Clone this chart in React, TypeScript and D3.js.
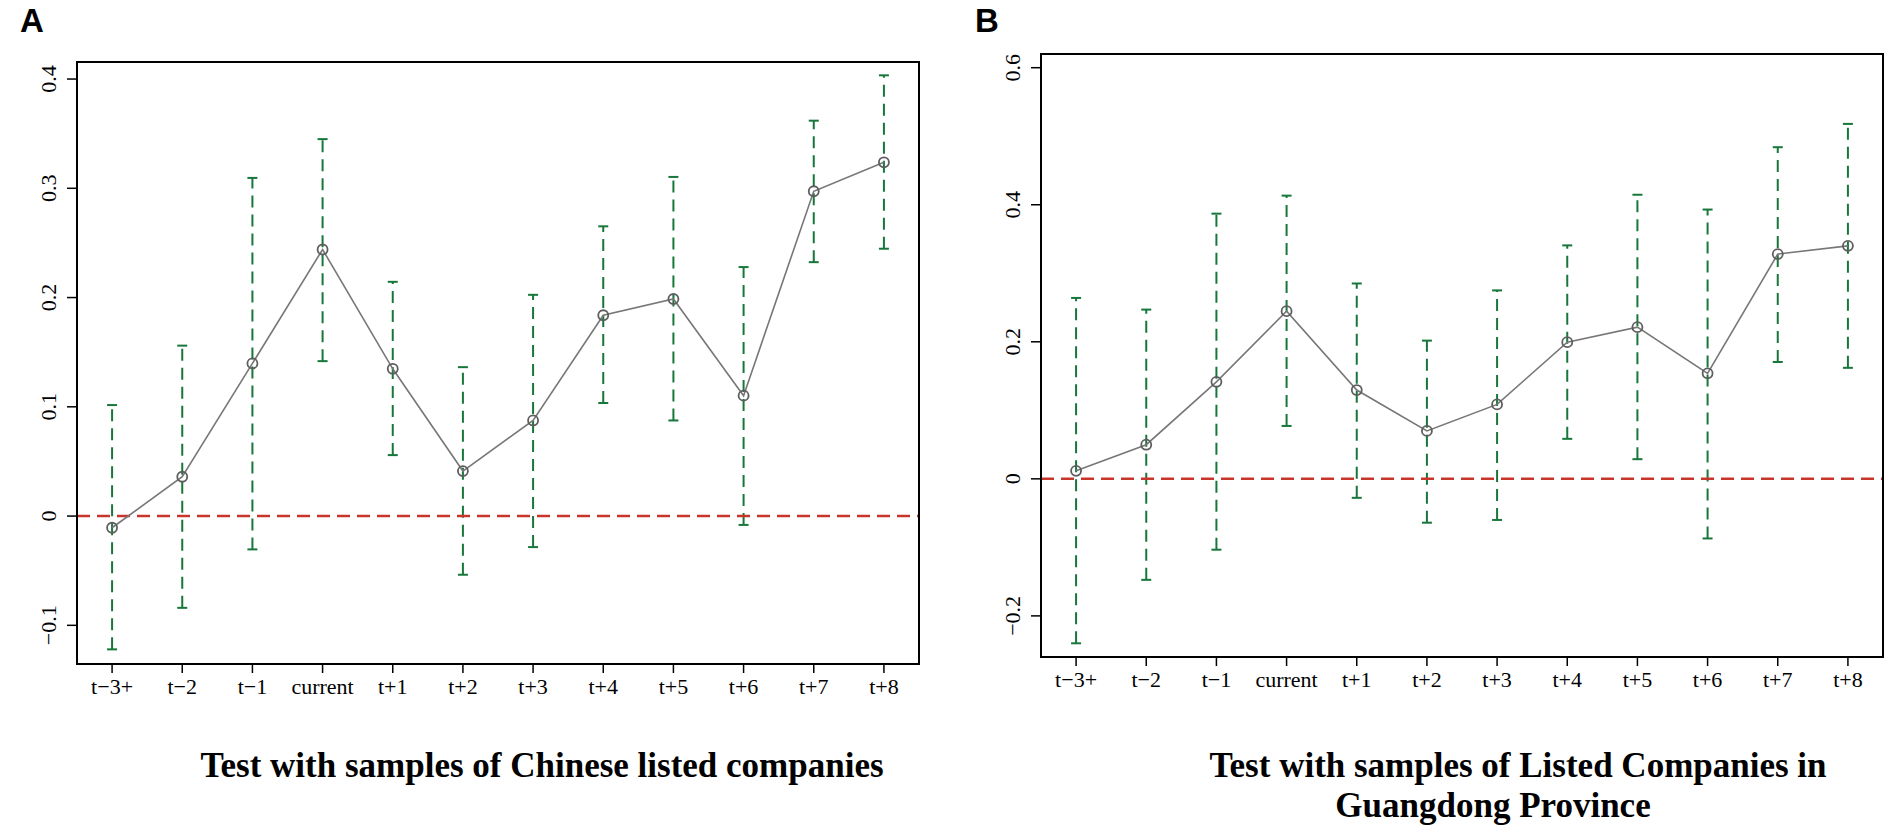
import React from "react";
import * as d3 from "d3";

// ---------- data ----------
const categories = ["t\u22123+", "t\u22122", "t\u22121", "current", "t+1", "t+2", "t+3", "t+4", "t+5", "t+6", "t+7", "t+8"];

const estA = [-0.0107, 0.036, 0.1397, 0.244, 0.1348, 0.0412, 0.0875, 0.1838, 0.1987, 0.1102, 0.2973, 0.3238];
const lowerA = [-0.122, -0.084, -0.0305, 0.1418, 0.0558, -0.0537, -0.0284, 0.1035, 0.0875, -0.0081, 0.2324, 0.2447];
const upperA = [0.1016, 0.156, 0.3095, 0.345, 0.2144, 0.1363, 0.2025, 0.2652, 0.3104, 0.2279, 0.3619, 0.4034];

const estB = [0.0117, 0.0498, 0.1416, 0.2447, 0.1296, 0.07, 0.1086, 0.1995, 0.2213, 0.154, 0.328, 0.34];
const lowerB = [-0.24, -0.1474, -0.1034, 0.0772, -0.0277, -0.064, -0.06, 0.0584, 0.0287, -0.087, 0.1705, 0.162];
const upperB = [0.264, 0.247, 0.387, 0.4133, 0.2851, 0.2017, 0.275, 0.3407, 0.4146, 0.393, 0.484, 0.518];

const yTicksA = [-0.1, 0, 0.1, 0.2, 0.3, 0.4];
const yTickLabelsA = ["\u22120.1", "0", "0.1", "0.2", "0.3", "0.4"];
const yTicksB = [-0.2, 0, 0.2, 0.4, 0.6];
const yTickLabelsB = ["\u22120.2", "0", "0.2", "0.4", "0.6"];

const yDomainA = [-0.1354, 0.4156];
const yDomainB = [-0.26, 0.62];

const titleA = ["Test with samples of Chinese listed companies"];
const titleB = ["Test with samples of Listed Companies in", "Guangdong Province"];

// ---------- styles ----------
const GREEN = "#17773a";
const RED = "#c8362b";
const GREY = "#777777";
const SERIF = "'Liberation Serif', 'Times New Roman', serif";
const SANS = "'Liberation Sans', Arial, sans-serif";

type PanelProps = {
  left: number; right: number; top: number; bottom: number;
  est: number[]; lower: number[]; upper: number[];
  yDomain: number[]; yTicks: number[]; yTickLabels: string[];
};

function Panel(p: PanelProps) {
  const x = d3.scalePoint<string>().domain(categories).range([p.left, p.right]).padding(0.5);
  const y = d3.scaleLinear().domain(p.yDomain).range([p.bottom, p.top]);
  const pts = categories.map((c, i) => ({ c, e: p.est[i], lo: p.lower[i], hi: p.upper[i] }));
  const line = d3.line<{ c: string; e: number }>().x((d) => x(d.c) as number).y((d) => y(d.e));
  const cap = 5;
  return (
    <g>
      {/* error bars */}
      {pts.map((d) => {
        const cx = x(d.c) as number;
        return (
          <g key={"eb" + d.c} stroke={GREEN} strokeWidth={2} fill="none">
            <line x1={cx} x2={cx} y1={y(d.lo)} y2={y(d.hi)} strokeDasharray="12,7" />
            <line x1={cx - cap} x2={cx + cap} y1={y(d.lo)} y2={y(d.lo)} />
            <line x1={cx - cap} x2={cx + cap} y1={y(d.hi)} y2={y(d.hi)} />
          </g>
        );
      })}
      {/* zero reference */}
      <line x1={p.left} x2={p.right} y1={y(0)} y2={y(0)} stroke={RED} strokeWidth={2.5} strokeDasharray="13,7" />
      {/* estimate line */}
      <path d={line(pts) as string} fill="none" stroke={GREY} strokeWidth={1.6} />
      {pts.map((d) => (
        <circle key={"pt" + d.c} cx={x(d.c) as number} cy={y(d.e)} r={5} fill="none" stroke="#5e5e5e" strokeWidth={1.8} />
      ))}
      {/* box */}
      <rect x={p.left} y={p.top} width={p.right - p.left} height={p.bottom - p.top} fill="none" stroke="#000" strokeWidth={2} />
      {/* y axis */}
      {p.yTicks.map((t, i) => (
        <g key={"yt" + t}>
          <line x1={p.left - 10} x2={p.left} y1={y(t)} y2={y(t)} stroke="#000" strokeWidth={1.5} />
          <text
            transform={`translate(${p.left - 21},${y(t)}) rotate(-90)`}
            textAnchor="middle"
            fontFamily={SERIF}
            fontSize={22}
            fill="#000"
          >
            {p.yTickLabels[i]}
          </text>
        </g>
      ))}
      {/* x axis */}
      {categories.map((c) => (
        <g key={"xt" + c}>
          <line x1={x(c) as number} x2={x(c) as number} y1={p.bottom} y2={p.bottom + 9} stroke="#000" strokeWidth={1.5} />
          <text x={x(c) as number} y={p.bottom + 30} textAnchor="middle" fontFamily={SERIF} fontSize={22} fill="#000">
            {c}
          </text>
        </g>
      ))}
    </g>
  );
}

export default function App() {
  return (
    <svg
      width={1892}
      height={829}
      viewBox="0 0 1892 829"
      style={{ position: "absolute", left: 0, top: 0, background: "#fff" }}
    >
      <rect x={0} y={0} width={1892} height={829} fill="#fff" />
      <text x={20} y={32} fontFamily={SANS} fontWeight="bold" fontSize={33} fill="#000">A</text>
      <text x={975} y={32} fontFamily={SANS} fontWeight="bold" fontSize={33} fill="#000">B</text>
      <Panel
        left={77} right={919} top={62} bottom={664}
        est={estA} lower={lowerA} upper={upperA}
        yDomain={yDomainA} yTicks={yTicksA} yTickLabels={yTickLabelsA}
      />
      <Panel
        left={1041} right={1883} top={54} bottom={657}
        est={estB} lower={lowerB} upper={upperB}
        yDomain={yDomainB} yTicks={yTicksB} yTickLabels={yTickLabelsB}
      />
      <text x={542} y={777} textAnchor="middle" fontFamily={SERIF} fontWeight="bold" fontSize={35} fill="#000">
        {titleA[0]}
      </text>
      <text x={1518} y={777} textAnchor="middle" fontFamily={SERIF} fontWeight="bold" fontSize={35} fill="#000">
        {titleB[0]}
      </text>
      <text x={1493} y={817} textAnchor="middle" fontFamily={SERIF} fontWeight="bold" fontSize={35} fill="#000">
        {titleB[1]}
      </text>
    </svg>
  );
}
